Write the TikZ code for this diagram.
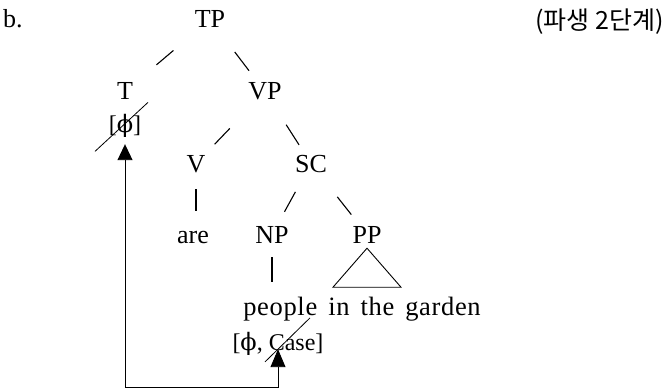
\documentclass[tikz,border=0pt]{standalone}
\usepackage{fontspec}
\setmainfont{Liberation Serif}
\newfontfamily\kofont{Noto Sans CJK KR}
\newfontfamily\grfont{DejaVu Serif}
\newfontfamily\wordfont[LetterSpace=2.5]{Liberation Serif}
\usetikzlibrary{arrows.meta,calc}
\newcommand{\treesize}{\fontsize{26}{30}\selectfont}
\newcommand{\featsize}{\fontsize{24}{28}\selectfont}
\newcommand{\wordsize}{\wordfont\fontsize{26.5}{30}\selectfont\spaceskip=11pt\relax}
\newcommand{\phisym}{{\grfont\char"03D5}}

\begin{document}
\begin{tikzpicture}[x=1pt, y=-1pt,
    lbl/.style={anchor=base, inner sep=0pt, font=\treesize},
    feat/.style={lbl, font=\featsize},
    branch/.style={line width=1.1pt},
    strike/.style={line width=0.8pt},
    agree/.style={line width=0.9pt, {Triangle[length=16pt,width=15pt]}-{Triangle[length=18pt,width=15pt]}}]
    \useasboundingbox (0,0) rectangle (666,390);

    % Example label and derivation step
    \node[lbl, anchor=base west] (ex) at (3,28) {b.};
    \node[lbl, anchor=base east, font=\kofont\fontsize{25}{29}\selectfont] (stage) at (664,30) {(파생 2단계)};

    % Tree nodes (placed on their baselines)
    \node[lbl] (TP) at (210,28) {TP};
    \node[lbl] (T) at (125,100) {T};
    \node[lbl] (VP) at (265,100) {VP};
    \node[feat] (phiT) at (125,133) {[\phisym]};
    \node[lbl] (V) at (196,172) {V};
    \node[lbl] (SC) at (311,172) {SC};
    \node[lbl] (are) at (193,243) {are};
    \node[lbl] (NP) at (272,243) {NP};
    \node[lbl] (PP) at (367,243) {PP};
    \node[lbl, font=\wordsize] (words) at (362,315) {people in the garden};
    \node[feat] (feats) at (278,350) {[\phisym, Case]};

    % Branches
    \foreach \a/\b/\s/\e in {TP/T/.43/.63, TP/VP/.45/.71, VP/V/.51/.73, VP/SC/.46/.74,
                             SC/NP/.40/.68, SC/PP/.47/.72} {
        \draw[branch] ($(\a)!\s!(\b)$) -- ($(\a)!\e!(\b)$);
    }
    \draw[branch] ($(V)!.35!(V |- are)$) -- ($(V)!.64!(V |- are)$);
    \draw[branch] ($(NP)!.31!(NP |- words)$) -- ($(NP)!.645!(NP |- words)$);

    % Roof over PP
    \draw[line width=0.9pt] ([yshift=-5pt]PP.south) -- ++(-34,39) -- ++(68,0) -- cycle;

    % Checked features struck through
    \draw[strike] ($(phiT)+(-30,25)$) -- ($(phiT)+(23,-24)$);
    \draw[strike] ($(feats)+(-13,18.5)$) -- ($(feats)+(32,-25.5)$);

    % Agree link
    \coordinate (low) at (0,387);
    \draw[agree] ([yshift=-6pt]phiT.south) -- (phiT.south |- low) -| ([yshift=6pt]feats.south);
\end{tikzpicture}
\end{document}
